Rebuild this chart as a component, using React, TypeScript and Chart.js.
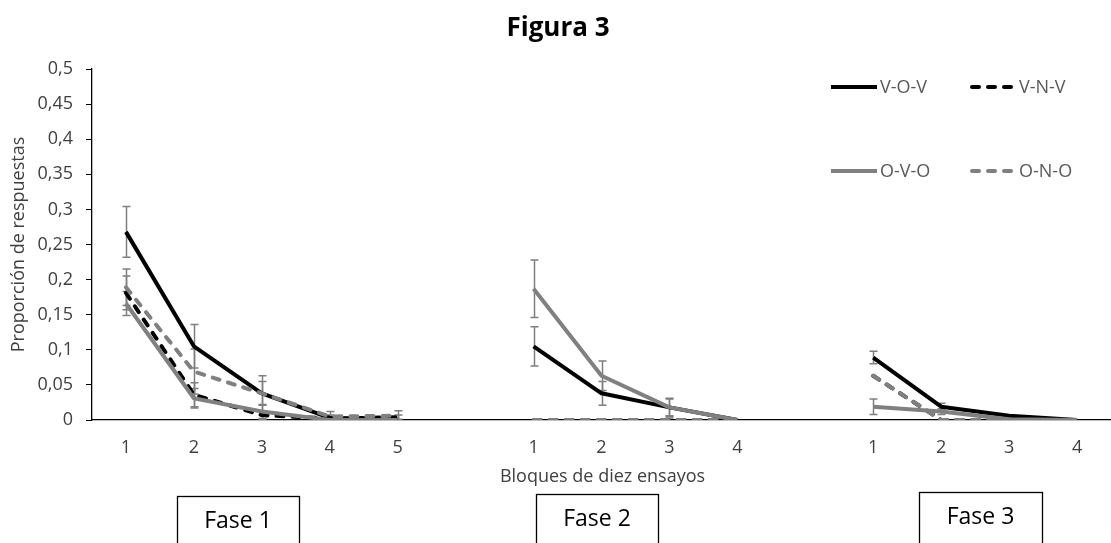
import React, { useEffect, useRef } from "react";
import { Chart, registerables } from "chart.js";

Chart.register(...registerables);

// ---- Data ----
const categories = ["1", "2", "3", "4", "5", "", "1", "2", "3", "4", "", "1", "2", "3", "4"];

const seriesNames = ["V-O-V", "V-N-V", "O-V-O", "O-N-O"];

const vov = [0.268, 0.105, 0.038, 0.003, 0, null, 0.105, 0.038, 0.018, 0, null, 0.089, 0.019, 0.006, 0];
const vovErr = [0.036, 0.031, 0.025, 0.004, 0, null, 0.028, 0.017, 0.012, 0, null, 0.009, 0.005, 0, 0];

const vnv = [0.181, 0.036, 0.007, 0.002, 0.004, null, 0, 0, 0, 0, null, 0.063, 0, 0, 0];
const vnvErr = [0.024, 0.017, 0.006, 0.003, 0.003, null, 0, 0, 0, 0, null, 0, 0, 0, 0];

const ovo = [0.166, 0.031, 0.012, 0, 0, null, 0.187, 0.063, 0.018, 0, null, 0.019, 0.012, 0.001, 0];
const ovoErr = [0.017, 0.014, 0.01, 0, 0, null, 0.041, 0.021, 0.013, 0, null, 0.011, 0.004, 0, 0];

const ono = [0.189, 0.069, 0.038, 0.005, 0.006, null, 0, 0, 0, 0, null, 0.063, 0, 0, 0];
const onoErr = [0.026, 0.032, 0.017, 0.007, 0.007, null, 0, 0, 0.003, 0, null, 0, 0, 0, 0];

const yMin = 0;
const yMax = 0.5;
const yStep = 0.05;

const titleText = "Figura 3";
const xTitle = "Bloques de diez ensayos";
const yTitle = "Proporción de respuestas";
const phaseLabels = ["Fase 1", "Fase 2", "Fase 3"];

const BLACK = "#000000";
const GREY = "#808080";
const FONT = "'Open Sans', sans-serif";

const errorBars = {
  id: "errorBars",
  beforeDatasetsDraw(chart: any) {
    const ctx = chart.ctx;
    const y = chart.scales.y;
    const area = chart.chartArea;
    ctx.save();
    ctx.beginPath();
    ctx.rect(area.left, area.top - 2, area.right - area.left, area.bottom - area.top + 2);
    ctx.clip();
    ctx.strokeStyle = "#7f7f7f";
    ctx.lineWidth = 1.5;
    chart.data.datasets.forEach((ds: any, di: number) => {
      const meta = chart.getDatasetMeta(di);
      const errs = ds.errors as (number | null)[];
      meta.data.forEach((pt: any, i: number) => {
        const v = ds.data[i];
        const e = errs[i];
        if (v == null || e == null || e === 0) return;
        const x = Math.round(pt.x) + 0.5;
        const yt = y.getPixelForValue(v + e);
        const yb = y.getPixelForValue(v - e);
        ctx.beginPath();
        ctx.moveTo(x, yt);
        ctx.lineTo(x, yb);
        ctx.moveTo(x - 4, yt);
        ctx.lineTo(x + 4, yt);
        ctx.moveTo(x - 4, yb);
        ctx.lineTo(x + 4, yb);
        ctx.stroke();
      });
    });
    ctx.restore();
  },
};

const extras = {
  id: "extras",
  afterDraw(chart: any) {
    const ctx = chart.ctx;
    const area = chart.chartArea;
    ctx.save();
    // Title
    ctx.fillStyle = "#000000";
    ctx.font = `bold 26px ${FONT}`;
    ctx.textAlign = "center";
    ctx.textBaseline = "middle";
    ctx.fillText(titleText, 558, 29);

    // X title
    ctx.fillStyle = "#404040";
    ctx.font = `18px ${FONT}`;
    ctx.fillText(xTitle, (area.left + area.right) / 2 + 1, 477);

    // Y title
    ctx.save();
    ctx.translate(19, (area.top + area.bottom) / 2);
    ctx.rotate(-Math.PI / 2);
    ctx.fillText(yTitle, 0, 0);
    ctx.restore();

    // Legend
    const rows = [87, 171];
    const items = [
      { name: seriesNames[0], color: BLACK, dash: false, row: 0, col: 0 },
      { name: seriesNames[1], color: BLACK, dash: true, row: 0, col: 1 },
      { name: seriesNames[2], color: GREY, dash: false, row: 1, col: 0 },
      { name: seriesNames[3], color: GREY, dash: true, row: 1, col: 1 },
    ];
    const cols = [831, 970];
    ctx.font = `18px ${FONT}`;
    ctx.textAlign = "left";
    ctx.textBaseline = "middle";
    items.forEach((it) => {
      const x0 = cols[it.col];
      const yy = rows[it.row];
      ctx.strokeStyle = it.color;
      ctx.lineWidth = 4;
      ctx.beginPath();
      if (it.dash) {
        ctx.lineCap = "round";
        ctx.setLineDash([7, 9]);
        ctx.moveTo(x0 + 2, yy);
        ctx.lineTo(x0 + 44, yy);
      } else {
        ctx.lineCap = "butt";
        ctx.setLineDash([]);
        ctx.moveTo(x0, yy);
        ctx.lineTo(x0 + 46, yy);
      }
      ctx.stroke();
      ctx.setLineDash([]);
      ctx.fillStyle = "#595959";
      ctx.fillText(it.name, x0 + 49, yy + 1);
    });

    // Phase boxes
    const boxes = [
      { x: 177, w: 122, top: 496, ty: 519 },
      { x: 536, w: 122, top: 494, ty: 517 },
      { x: 919, w: 123, top: 492, ty: 515 },
    ];
    ctx.strokeStyle = "#000000";
    ctx.lineWidth = 1.3;
    ctx.fillStyle = "#000000";
    ctx.font = `23px ${FONT}`;
    ctx.textAlign = "center";
    boxes.forEach((b, i) => {
      ctx.strokeRect(b.x + 0.5, b.top + 0.5, b.w, 80);
      ctx.fillText(phaseLabels[i], b.x + b.w / 2, b.ty + 2);
    });
    ctx.restore();
  },
};

export default function App() {
  const ref = useRef<HTMLCanvasElement | null>(null);

  useEffect(() => {
    document.body.style.margin = "0";
    const canvas = ref.current;
    if (!canvas) return;
    const common = {
      pointRadius: 0,
      pointHoverRadius: 0,
      borderWidth: 4,
      tension: 0,
      fill: false,
      spanGaps: false,
      borderJoinStyle: "round" as const,
    };
    const chart = new Chart(canvas, {
      type: "line",
      data: {
        labels: categories,
        datasets: [
          { ...common, label: seriesNames[3], data: ono, errors: onoErr, borderColor: GREY, borderDash: [7, 9], borderCapStyle: "round" as const, order: 0 } as any,
          { ...common, label: seriesNames[2], data: ovo, errors: ovoErr, borderColor: GREY, order: 1 } as any,
          { ...common, label: seriesNames[1], data: vnv, errors: vnvErr, borderColor: BLACK, borderDash: [7, 9], borderCapStyle: "round" as const, order: 2 } as any,
          { ...common, label: seriesNames[0], data: vov, errors: vovErr, borderColor: BLACK, order: 3 } as any,
        ],
      },
      options: {
        responsive: false,
        animation: false,
        events: [],
        layout: { padding: { top: 69, left: 0, right: 0, bottom: 0 } },
        plugins: {
          legend: { display: false },
          title: { display: false },
          tooltip: { enabled: false },
        },
        scales: {
          x: {
            type: "category",
            offset: true,
            grid: { display: false, drawTicks: false },
            border: { display: true, color: "#000000", width: 1.3 },
            ticks: {
              color: "#404040",
              font: { family: FONT, size: 18 },
              padding: 17,
              maxRotation: 0,
              autoSkip: false,
            },
            afterFit(scale: any) {
              scale.height = 123;
            },
          },
          y: {
            min: yMin,
            max: yMax,
            grid: {
              display: true,
              drawOnChartArea: false,
              drawTicks: true,
              tickLength: 6,
              color: "#000000",
            },
            border: { display: true, color: "#000000", width: 1.3 },
            ticks: {
              stepSize: yStep,
              color: "#404040",
              font: { family: FONT, size: 18 },
              padding: 13,
              callback: (v: any) => String(Number(Number(v).toFixed(2))).replace(".", ","),
            },
            afterFit(scale: any) {
              scale.width = 92;
            },
          },
        },
      },
      plugins: [errorBars, extras],
    } as any);
    return () => chart.destroy();
  }, []);

  return (
    <div style={{ position: "absolute", left: 0, top: 0, width: 1111, height: 543, background: "#fff" }}>
      <canvas ref={ref} width={1111} height={543} style={{ display: "block" }} />
    </div>
  );
}
